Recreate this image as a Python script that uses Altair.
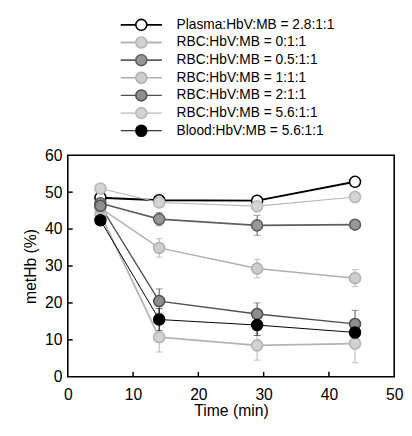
import altair as alt
import pandas as pd

times = [5, 14, 29, 44]
series = [
    "Plasma:HbV:MB = 2.8:1:1",
    "RBC:HbV:MB = 0:1:1",
    "RBC:HbV:MB = 0.5:1:1",
    "RBC:HbV:MB = 1:1:1",
    "RBC:HbV:MB = 2:1:1",
    "RBC:HbV:MB = 5.6:1:1",
    "Blood:HbV:MB = 5.6:1:1",
]
plasma = [48.5, 47.8, 47.7, 52.8]
rbc0 = [44.0, 10.7, 8.5, 9.0]
rbc05 = [47.0, 42.7, 41.0, 41.2]
rbc1 = [45.7, 34.9, 29.3, 26.7]
rbc2 = [46.3, 20.5, 17.0, 14.3]
rbc56 = [51.0, 47.2, 46.2, 48.7]
blood = [42.4, 15.5, 14.0, 12.0]

err_plasma = [0.5, 0.5, 0.5, 0.5]
err_rbc0 = [1.0, 4.0, 4.0, 5.2]
err_rbc05 = [0.8, 1.8, 2.7, 0.8]
err_rbc1 = [1.0, 2.5, 2.5, 2.3]
err_rbc2 = [0.8, 3.3, 3.0, 3.7]
err_rbc56 = [0.8, 1.0, 1.5, 1.0]
err_blood = [0.8, 3.0, 2.8, 2.5]

x_ticks = [10, 20, 30, 40]
y_ticks = [10, 20, 30, 40, 50]

values = [plasma, rbc0, rbc05, rbc1, rbc2, rbc56, blood]
errors = [err_plasma, err_rbc0, err_rbc05, err_rbc1, err_rbc2, err_rbc56, err_blood]

rows = []
for i, (s, vals, errs) in enumerate(zip(series, values, errors)):
    for t, v, e in zip(times, vals, errs):
        rows.append({"series": s, "order": i, "time": t, "metHb": v,
                     "lo": v - e, "hi": v + e})
df = pd.DataFrame(rows)

fill_range = ["white", "#d2d2d2", "#979797", "#cdcdcd", "#8e8e8e", "#d4d4d4", "black"]
edge_range = ["black", "#a0a0a0", "#676767", "#a0a0a0", "#646464", "#a4a4a4", "black"]
line_range = ["black", "#b4b4b4", "#5e5e5e", "#b0b0b0", "#505050", "#b8b8b8", "black"]
lw_range = [2, 1, 1.5, 1, 1.6, 1, 2.6]
err_range = ["#444444", "#aaaaaa", "#777777", "#aaaaaa", "#666666", "#aaaaaa", "#222222"]

fill_sc = alt.Scale(domain=series, range=fill_range)
edge_sc = alt.Scale(domain=series, range=edge_range)
line_sc = alt.Scale(domain=series, range=line_range)
lw_sc = alt.Scale(domain=series, range=lw_range)
err_sc = alt.Scale(domain=series, range=err_range)

W, H = 333, 226

x_axis = alt.Axis(values=[0, 10, 20, 30, 40, 50], title="Time (min)",
                  ticks=False, domain=False, grid=False,
                  labelPadding=10, titlePadding=1,
                  labelFontSize=16, titleFontSize=16,
                  labelColor="black", titleColor="black",
                  titleFontWeight="normal", labelFlush=False)
y_axis = alt.Axis(values=[0, 10, 20, 30, 40, 50, 60], title="metHb (%)",
                  ticks=False, domain=False, grid=False,
                  labelPadding=6, titlePadding=6,
                  labelFontSize=16, titleFontSize=16,
                  labelColor="black", titleColor="black",
                  titleFontWeight="normal", labelFlush=False)
x_sc = alt.Scale(domain=[0, 50], nice=False, zero=False)
y_sc = alt.Scale(domain=[0, 60], nice=False, zero=False)


def X(field):
    return alt.X(field, scale=x_sc, axis=x_axis, title="Time (min)")


def Y(field):
    return alt.Y(field, scale=y_sc, axis=y_axis, title="metHb (%)")


base = alt.Chart(df)

err_rule = base.mark_rule(strokeWidth=1).encode(
    x=X("time:Q"), y=Y("lo:Q"), y2="hi:Q",
    stroke=alt.Stroke("series:N", scale=err_sc, legend=None))
cap_lo = base.mark_tick(thickness=1, size=7, orient="horizontal").encode(
    x=X("time:Q"), y=Y("lo:Q"),
    color=alt.Color("series:N", scale=err_sc, legend=None))
cap_hi = base.mark_tick(thickness=1, size=7, orient="horizontal").encode(
    x=X("time:Q"), y=Y("hi:Q"),
    color=alt.Color("series:N", scale=err_sc, legend=None))

lines = base.mark_line().encode(
    x=X("time:Q"), y=Y("metHb:Q"),
    detail="series:N",
    stroke=alt.Stroke("series:N", scale=line_sc, legend=None),
    strokeWidth=alt.StrokeWidth("series:N", scale=lw_sc, legend=None),
    order="order:Q")

points = base.mark_point(shape="circle", filled=False, size=125, strokeWidth=1.6, opacity=1).encode(
    x=X("time:Q"), y=Y("metHb:Q"),
    fill=alt.Fill("series:N", scale=fill_sc, legend=None),
    stroke=alt.Stroke("series:N", scale=edge_sc, legend=None),
    order="order:Q")

xtick_df = pd.DataFrame({"t": x_ticks})
ytick_df = pd.DataFrame({"v": y_ticks})
xt = alt.Chart(xtick_df).mark_rule(color="black", strokeWidth=1.5).encode(
    x=X("t:Q"), y=alt.value(H), y2=alt.value(H - 5))
yt = alt.Chart(ytick_df).mark_rule(color="black", strokeWidth=1.5).encode(
    y=Y("v:Q"), x=alt.value(0), x2=alt.value(5))

main = alt.layer(err_rule, cap_lo, cap_hi, lines, points, xt, yt).properties(
    width=W, height=H,
    view=alt.ViewBackground(stroke="black", strokeWidth=1.6))

leg_df = pd.DataFrame({"series": series})
ly = alt.Y("series:N", sort=series, scale=alt.Scale(domain=series), axis=None)
leg_base = alt.Chart(leg_df)
leg_line = leg_base.mark_rule().encode(
    y=ly, x=alt.value(54), x2=alt.value(96),
    stroke=alt.Stroke("series:N", scale=line_sc, legend=None),
    strokeWidth=alt.StrokeWidth("series:N", scale=lw_sc, legend=None))
leg_pt = leg_base.mark_point(shape="circle", filled=False, size=125, strokeWidth=1.6, opacity=1).encode(
    y=ly, x=alt.value(75),
    fill=alt.Fill("series:N", scale=fill_sc, legend=None),
    stroke=alt.Stroke("series:N", scale=edge_sc, legend=None))
leg_txt = leg_base.mark_text(align="left", baseline="middle", fontSize=14, color="black").encode(
    y=ly, x=alt.value(111), text="series:N")
legend = alt.layer(leg_line, leg_pt, leg_txt).properties(
    width=270, height=126, view=alt.ViewBackground(stroke=None))

chart = alt.vconcat(legend, main, spacing=7).resolve_scale(
    y="independent", x="independent").properties(
    padding={"left": 14, "top": 4, "right": 0, "bottom": 0}).configure(
    font="Liberation Sans").configure_view(stroke=None)

chart.save("out.html", embed_options={"renderer": "svg", "actions": False})
